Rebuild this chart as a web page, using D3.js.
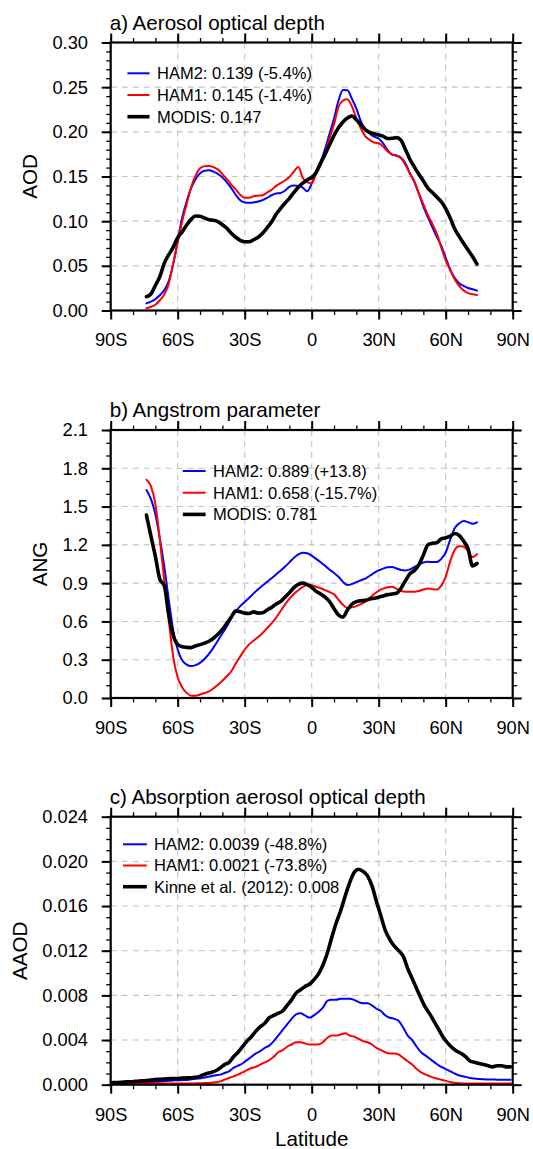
<!DOCTYPE html>
<html>
<head>
<meta charset="utf-8">
<script src="https://cdn.jsdelivr.net/npm/d3@7"></script>
<style>
  body { margin: 0; background: #fff; }
  svg { display: block; font-family: "Liberation Sans", Arial, Helvetica, sans-serif; }
</style>
</head>
<body>
<svg id="chart" width="533" height="1149"></svg>
<script>
// ---------- latitude axis ----------
const latTicks = [-90, -60, -30, 0, 30, 60, 90];
const latTickLabels = ["90S", "60S", "30S", "0", "30N", "60N", "90N"];

// ---------- zonal means, 74S–74N (panels a, b) ----------
const latAB = [-74,-72,-70,-68,-66,-64,-62,-60,-58,-56,-54,-52,-50,-48,-46,-44,-42,-40,-38,-36,
  -34,-32,-30,-28,-26,-24,-22,-20,-18,-16,-14,-12,-10,-8,-6,-4,-2,0,2,4,
  6,8,10,12,14,16,18,20,22,24,26,28,30,32,34,36,38,40,42,44,
  46,48,50,52,54,56,58,60,62,64,66,68,70,72,74];

// a) aerosol optical depth
const aodHam2 = [.008,.010,.0128,.017,.023,.033,.052,.078,.104,.122,
  .137,.147,.1536,.1565,.157,.1555,.153,.149,.1435,.137,
  .1295,.1235,.121,.1205,.121,.122,.1235,.126,.129,.131,
  .1315,.134,.1385,.1398,.1395,.1375,.1335,.142,.156,.1665,
  .181,.198,.215,.235,.2468,.2465,.237,.226,.212,.2025,
  .198,.1945,.1925,.187,.1795,.1745,.1735,.171,.1645,.1535,
  .1435,.1305,.1162,.1045,.0935,.0825,.0725,.059,.046,.0365,
  .0305,.0275,.0252,.0238,.0222];
const aodHam1 = [.0025,.0042,.0065,.0115,.018,.030,.053,.076,.100,.119,
  .138,.151,.1592,.1615,.1617,.1605,.158,.1527,.147,.141,
  .1355,.1295,.1262,.1263,.128,.1285,.129,.132,.135,.1395,
  .1425,.1455,.1495,.1555,.1605,.1485,.1435,.1425,.1535,.165,
  .176,.193,.2085,.228,.235,.2365,.2285,.215,.204,.195,
  .191,.188,.1872,.1835,.178,.1745,.173,.1705,.163,.153,
  .1445,.131,.119,.107,.097,.0864,.0705,.056,.045,.035,
  .0275,.0225,.0195,.0182,.0173];
const aodModis = [.0155,.0185,.028,.038,.053,.0625,.071,.0815,.088,.0957,
  .102,.1058,.1055,.1035,.1015,.101,.0995,.096,.092,.0865,
  .082,.0785,.077,.077,.0792,.082,.0865,.0925,.099,.1075,
  .114,.12,.1255,.132,.138,.1425,.1462,.149,.1545,.165,
  .175,.1855,.196,.2045,.211,.2155,.2177,.2135,.208,.2025,
  .1995,.1978,.1965,.195,.1925,.1928,.1935,.1905,.18,.169,
  .1605,.1525,.145,.137,.132,.127,.1218,.114,.1035,.0915,
  .083,.0752,.0677,.0605,.052];

// b) Angstrom parameter
const angHam2 = [1.63,1.56,1.44,1.25,1.03,0.77,0.53,0.38,0.295,0.262,
  0.251,0.258,0.275,0.305,0.345,0.395,0.45,0.505,0.56,0.625,
  0.68,0.72,0.752,0.785,0.82,0.852,0.882,0.91,0.938,0.968,
  0.997,1.028,1.063,1.098,1.125,1.138,1.135,1.115,1.09,1.064,
  1.036,1.005,0.98,0.95,0.91,0.885,0.893,0.908,0.922,0.936,
  0.958,0.98,1.0,1.014,1.025,1.027,1.015,1.003,1.0,1.008,
  1.027,1.045,1.062,1.067,1.066,1.065,1.09,1.14,1.24,1.33,
  1.368,1.386,1.378,1.365,1.376];
const angHam1 = [1.71,1.66,1.52,1.24,0.92,0.61,0.32,0.16,0.085,0.04,
  0.018,0.018,0.027,0.039,0.052,0.075,0.103,0.135,0.17,0.21,
  0.27,0.325,0.38,0.42,0.45,0.478,0.51,0.547,0.585,0.628,
  0.68,0.732,0.776,0.815,0.845,0.87,0.885,0.884,0.872,0.86,
  0.845,0.83,0.812,0.77,0.73,0.705,0.71,0.72,0.735,0.755,
  0.785,0.815,0.84,0.857,0.868,0.871,0.855,0.838,0.832,0.832,
  0.832,0.838,0.85,0.858,0.853,0.85,0.88,0.95,1.07,1.16,
  1.19,1.188,1.15,1.105,1.127];
const angModis = [1.433,1.27,1.11,0.93,0.88,0.65,0.49,0.42,0.402,0.397,
  0.395,0.408,0.418,0.43,0.445,0.468,0.5,0.537,0.585,0.635,
  0.683,0.675,0.665,0.662,0.675,0.665,0.668,0.69,0.71,0.735,
  0.755,0.79,0.825,0.865,0.89,0.9,0.888,0.868,0.835,0.815,
  0.79,0.755,0.70,0.65,0.633,0.69,0.735,0.755,0.762,0.765,
  0.775,0.782,0.79,0.8,0.81,0.815,0.82,0.86,0.92,0.975,
  1.0,1.045,1.12,1.2,1.213,1.216,1.247,1.255,1.268,1.289,
  1.275,1.23,1.17,1.035,1.054];

// ---------- zonal means, 89S–89N (panel c) ----------
const latC = [-89,-87,-85,-83,-81,-79,-77,-75,-73,-71,
  -69,-67,-65,-63,-61,-59,-57,-55,-53,-51,
  -49,-47,-45,-43,-41,-39,-37,-35,-33,-31,
  -29,-27,-25,-23,-21,-19,-17,-15,-13,-11,
  -9,-7,-5,-3,-1,1,3,5,7,9,
  11,13,15,17,19,21,23,25,27,29,
  31,33,35,37,39,41,43,45,47,49,
  51,53,55,57,59,61,63,65,67,69,
  71,73,75,77,79,81,83,85,87,89];

// c) absorption aerosol optical depth
const aaodHam2 = [.00015,.00015,.00016,.00017,.00018,.00019,.0002,.00021,.00023,.00025,
  .00027,.0003,.00033,.00036,.00039,.0004,.00042,.00045,.0005,.00055,
  .0006,.00068,.00075,.00085,.0009,.00105,.0012,.0015,.0017,.0019,
  .0022,.0025,.0028,.003,.0033,.0035,.0039,.0044,.0049,.0054,
  .0059,.0063,.0064,.0062,.006,.0062,.0065,.0069,.0075,.0076,
  .0076,.0077,.0077,.0077,.0076,.0074,.0073,.0073,.0071,.0068,
  .0066,.0062,.006,.0059,.0057,.0051,.0044,.004,.0034,.0029,
  .0026,.0023,.002,.0017,.0015,.0013,.0011,.0009,.00078,.0007,
  .0006,.00055,.0005,.00048,.00047,.00046,.00045,.00045,.00045,.00045];
const aaodHam1 = [.0001,.0001,.0001,.0001,.0001,.0001,.0001,.0001,.0001,.0001,
  .0001,.0001,.0001,.0001,.0001,.0001,.0001,.0001,.00011,.00012,
  .00013,.00015,.00017,.00022,.0003,.00045,.0006,.00075,.0009,.0011,
  .0013,.0015,.0016,.0018,.002,.0022,.0025,.0029,.0031,.0034,
  .0036,.0038,.0038,.0037,.0036,.0036,.0036,.0038,.0042,.0044,
  .0044,.0045,.0046,.0044,.0043,.0041,.0039,.0038,.0036,.0033,
  .0031,.0029,.0028,.0028,.0027,.0024,.0021,.0018,.0014,.0011,
  .0009,.00075,.0006,.0005,.0004,.0003,.0002,.00015,.00012,.0001,
  .0001,.0001,.0001,.0001,.0001,.0001,.0001,.0001,.0001,.0001];
const aaodKinne = [.0002,.0002,.00022,.00025,.00027,.0003,.00033,.00036,.0004,.00045,
  .00048,.0005,.00052,.00054,.00055,.00057,.0006,.00062,.00065,.0007,
  .00085,.001,.0011,.00125,.0015,.0018,.002,.0025,.0029,.0034,
  .0039,.0043,.0048,.0052,.0055,.006,.0062,.0064,.0066,.0071,
  .0076,.0082,.0085,.0088,.009,.0094,.0099,.0107,.0118,.0132,
  .0145,.0156,.0169,.0181,.019,.0193,.0191,.0187,.0178,.0164,
  .0151,.0138,.013,.0124,.012,.0115,.0104,.0095,.0086,.0077,
  .0069,.0063,.0056,.0049,.0042,.0037,.0033,.003,.0028,.0025,
  .0021,.002,.0019,.0018,.0017,.0016,.0017,.0017,.0016,.0016];

// ---------- value-axis ticks ----------
const aodTicks  = [0, 0.05, 0.10, 0.15, 0.20, 0.25, 0.30];
const angTicks  = [0, 0.3, 0.6, 0.9, 1.2, 1.5, 1.8, 2.1];
const aaodTicks = [0, 0.004, 0.008, 0.012, 0.016, 0.020, 0.024];

// ---------- legend texts ----------
const aodLegend  = ["HAM2: 0.139 (-5.4%)", "HAM1: 0.145 (-1.4%)", "MODIS: 0.147"];
const angLegend  = ["HAM2: 0.889 (+13.8)", "HAM1: 0.658 (-15.7%)", "MODIS: 0.781"];
const aaodLegend = ["HAM2: 0.0039 (-48.8%)", "HAM1: 0.0021 (-73.8%)", "Kinne et al. (2012): 0.008"];

// ---------- layout ----------
const PLOT_LEFT = 110.7, PLOT_W = 402, PLOT_H = 268;
const BLUE = "#0000ff", RED = "#ff0000", BLACK = "#000000";
const styles = [
  { color: BLUE,  width: 2 },
  { color: RED,   width: 2 },
  { color: BLACK, width: 3.6 }
];

const panels = [
  { title: "a) Aerosol optical depth", yTitle: "AOD", top: 42.5, yTitleX: 29.7,
    lat: latAB, series: [aodHam2, aodHam1, aodModis], legend: aodLegend,
    ticks: aodTicks, fmt: d3.format(".2f"), minorStep: 0.01,
    leg: { x1: 127.4, x2: 149.5, tx: 157, y0: 30.8, dy: 21.7 } },
  { title: "b) Angstrom parameter", yTitle: "ANG", top: 430, yTitleX: 40,
    lat: latAB, series: [angHam2, angHam1, angModis], legend: angLegend,
    ticks: angTicks, fmt: d3.format(".1f"), minorStep: 0.1,
    leg: { x1: 182.8, x2: 205.6, tx: 213, y0: 41, dy: 21.7 } },
  { title: "c) Absorption aerosol optical depth", yTitle: "AAOD", top: 816.7, yTitleX: 19.5,
    lat: latC, series: [aaodHam2, aaodHam1, aaodKinne], legend: aaodLegend,
    ticks: aaodTicks, fmt: d3.format(".3f"), minorStep: 0.001,
    leg: { x1: 123, x2: 146.8, tx: 154, y0: 27.6, dy: 21.2 }, xTitle: "Latitude" }
];

const svg = d3.select("#chart");
const x = d3.scaleLinear().domain([-90, 90]).range([0, PLOT_W]);
const latMinor = d3.range(-90, 91, 10);

panels.forEach(p => {
  const yMax = p.ticks[p.ticks.length - 1];
  const y = d3.scaleLinear().domain([0, yMax]).range([PLOT_H, 0]);
  const nMinor = Math.round(yMax / p.minorStep);
  const yMinor = d3.range(0, nMinor + 1).map(i => i * p.minorStep);

  const g = svg.append("g").attr("transform", `translate(${PLOT_LEFT},${p.top})`);

  // dashed grid at interior major ticks
  const grid = g.append("g").attr("stroke", "#c4c4c4").attr("stroke-width", 1.1)
    .attr("stroke-dasharray", "6,5");
  grid.selectAll("line.v").data(latTicks.slice(1, -1)).join("line")
    .attr("x1", d => x(d)).attr("x2", d => x(d)).attr("y1", 0).attr("y2", PLOT_H);
  grid.selectAll("line.h").data(p.ticks.slice(1, -1)).join("line")
    .attr("x1", 0).attr("x2", PLOT_W).attr("y1", d => y(d)).attr("y2", d => y(d));

  // minor ticks on all four sides
  const minorAxes = [
    [d3.axisBottom(x).tickValues(latMinor), `translate(0,${PLOT_H})`],
    [d3.axisTop(x).tickValues(latMinor), null],
    [d3.axisLeft(y).tickValues(yMinor), null],
    [d3.axisRight(y).tickValues(yMinor), `translate(${PLOT_W},0)`]
  ];
  minorAxes.forEach(([ax, tr]) => {
    const a = g.append("g").attr("transform", tr)
      .call(ax.tickSize(4.5).tickSizeOuter(0).tickFormat(""));
    a.select(".domain").remove();
    a.selectAll("line").attr("stroke-width", 1.3);
  });

  // major ticks (labelled at bottom and left)
  const xb = g.append("g").attr("transform", `translate(0,${PLOT_H})`)
    .call(d3.axisBottom(x).tickValues(latTicks).tickSize(9).tickSizeOuter(0)
      .tickPadding(14).tickFormat((d, i) => latTickLabels[i]));
  const xt = g.append("g")
    .call(d3.axisTop(x).tickValues(latTicks).tickSize(9).tickSizeOuter(0).tickFormat(""));
  const yl = g.append("g")
    .call(d3.axisLeft(y).tickValues(p.ticks).tickSize(9).tickSizeOuter(0)
      .tickPadding(13.7).tickFormat(p.fmt));
  const yr = g.append("g").attr("transform", `translate(${PLOT_W},0)`)
    .call(d3.axisRight(y).tickValues(p.ticks).tickSize(9).tickSizeOuter(0).tickFormat(""));
  [xb, xt, yl, yr].forEach(a => {
    a.select(".domain").remove();
    a.selectAll("line").attr("stroke-width", 2);
    a.selectAll("text").attr("font-size", 18.3).attr("font-family", null).attr("fill", "#000");
  });

  // data lines (black drawn last, on top)
  const line = d3.line()
    .x((d, i) => x(p.lat[i]))
    .y(d => y(d))
    .curve(d3.curveMonotoneX);
  [0, 1, 2].forEach(k => {
    g.append("path").datum(p.series[k])
      .attr("d", line)
      .attr("fill", "none")
      .attr("stroke", styles[k].color)
      .attr("stroke-width", styles[k].width)
      .attr("stroke-linejoin", "round")
      .attr("stroke-linecap", "round");
  });

  // frame
  g.append("rect").attr("width", PLOT_W).attr("height", PLOT_H)
    .attr("fill", "none").attr("stroke", "#000").attr("stroke-width", 2.2);

  // legend
  const lg = svg.append("g");
  p.legend.forEach((txt, k) => {
    const yy = p.top + p.leg.y0 + k * p.leg.dy;
    lg.append("line").attr("x1", p.leg.x1).attr("x2", p.leg.x2)
      .attr("y1", yy).attr("y2", yy)
      .attr("stroke", styles[k].color).attr("stroke-width", styles[k].width);
    lg.append("text").attr("x", p.leg.tx).attr("y", yy).attr("dy", "0.36em")
      .attr("font-size", 16.5).text(txt);
  });

  // panel title
  svg.append("text").attr("x", PLOT_LEFT - 1).attr("y", p.top - 13)
    .attr("font-size", 20.6).text(p.title);

  // value-axis title
  svg.append("text")
    .attr("transform", `translate(${p.yTitleX + 7.2},${p.top + PLOT_H / 2}) rotate(-90)`)
    .attr("text-anchor", "middle").attr("font-size", 20.6).text(p.yTitle);

  if (p.xTitle) {
    svg.append("text").attr("x", PLOT_LEFT + PLOT_W / 2).attr("y", p.top + PLOT_H + 61)
      .attr("text-anchor", "middle").attr("font-size", 20.6).text(p.xTitle);
  }
});
</script>
</body>
</html>
